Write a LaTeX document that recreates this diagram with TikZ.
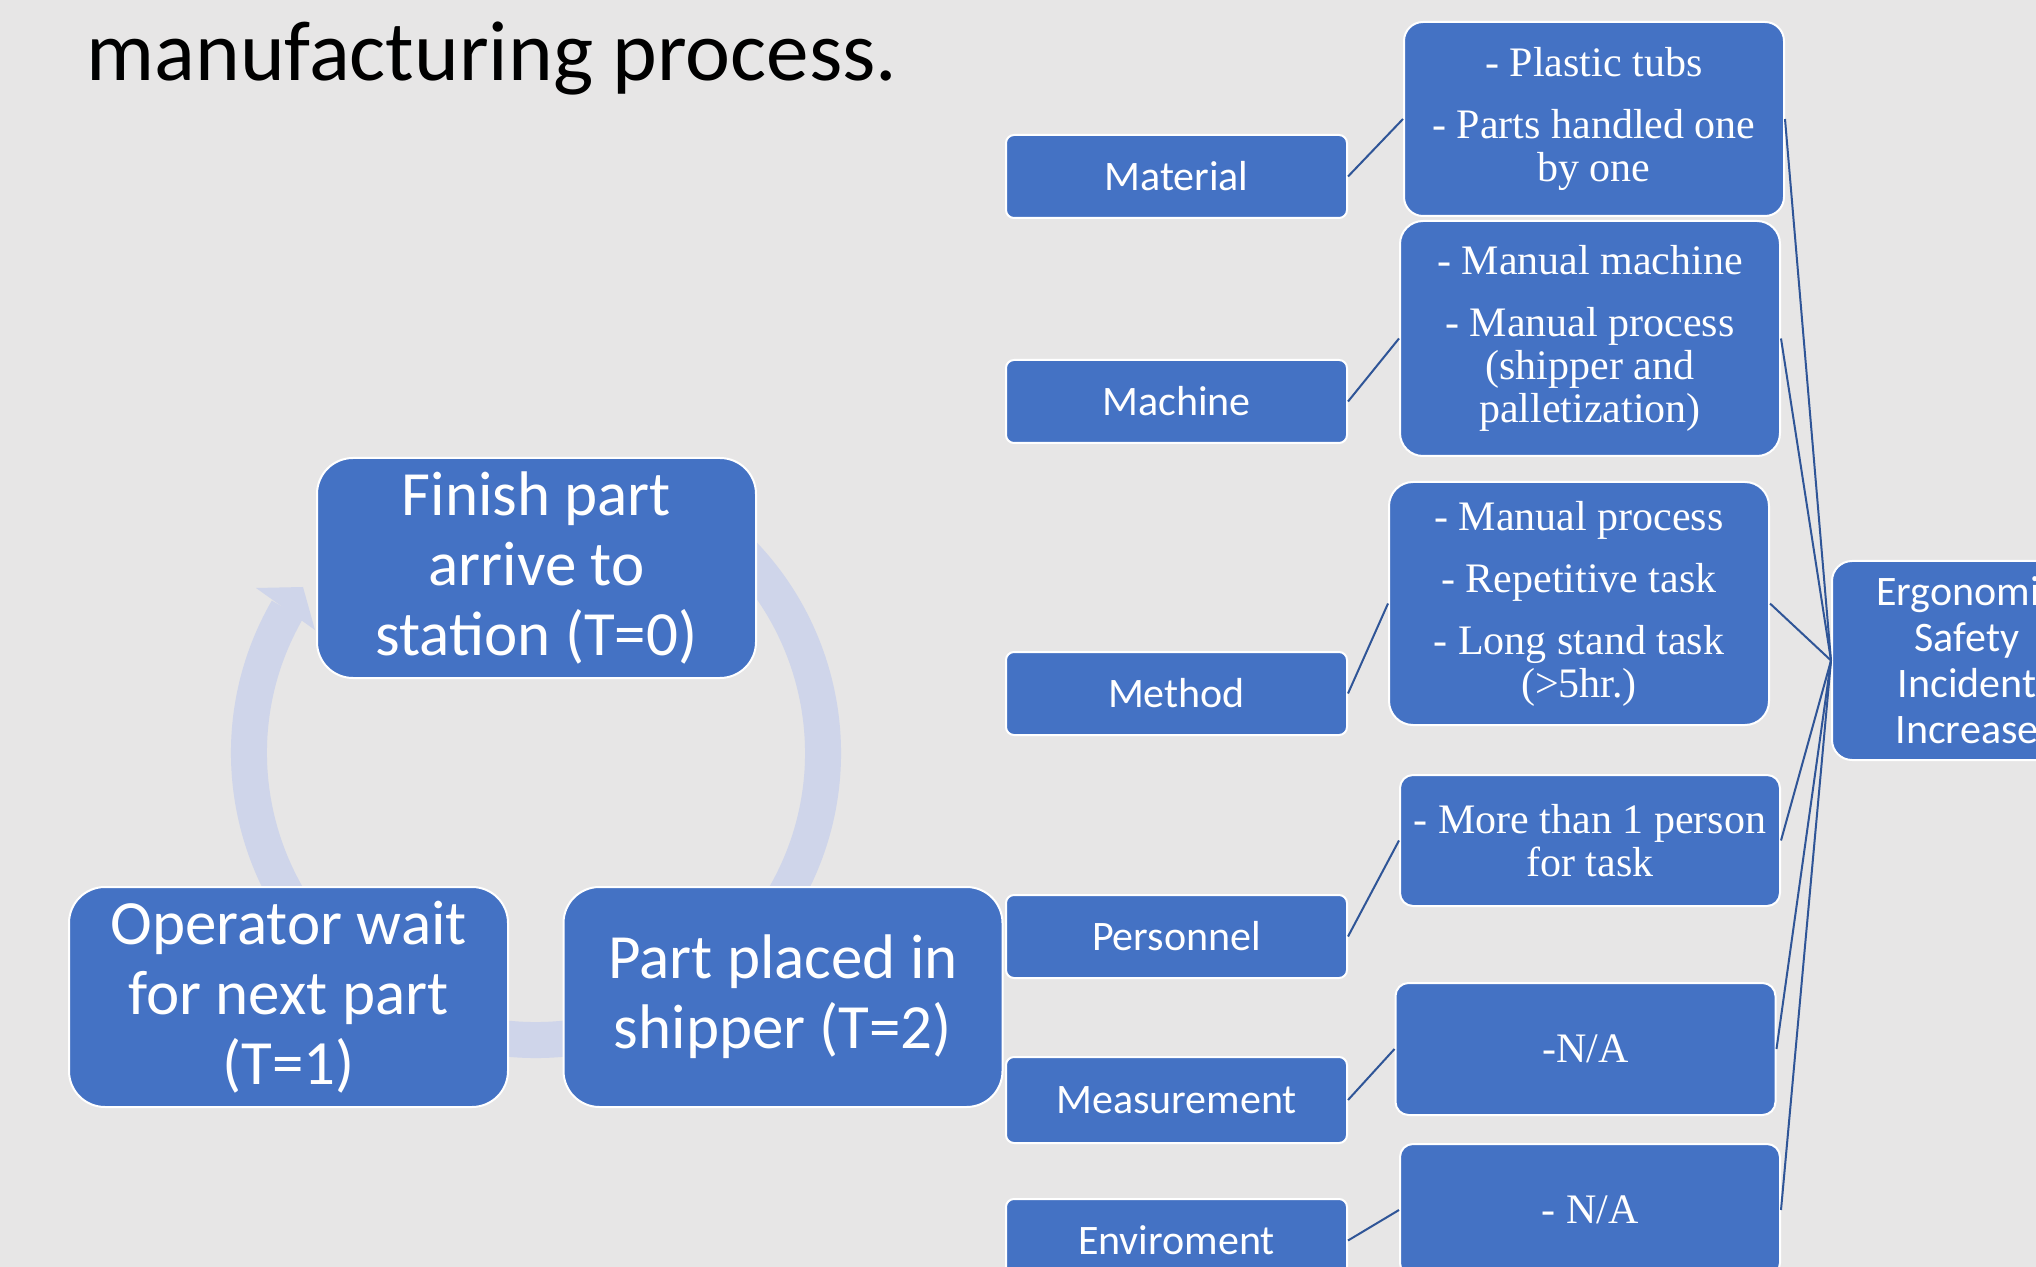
\documentclass[tikz,border=0pt]{standalone}
\usepackage{fontspec}
\setmainfont{Carlito}
\newfontfamily\tnr{Liberation Serif}
\usetikzlibrary{calc}
\definecolor{bg}{HTML}{E7E6E6}
\definecolor{boxblue}{HTML}{4472C4}
\definecolor{linkblue}{HTML}{2F5597}
\definecolor{cyclecol}{HTML}{CFD5EA}
\begin{document}
\begin{tikzpicture}[x=0.5pt,y=-0.5pt,
  box/.style={draw=white, line width=1pt, fill=boxblue, text=white, align=center, inner sep=0pt},
  catbox/.style={box, minimum width=170.5pt, minimum height=41.5pt, rounded corners=4pt, font=\fontsize{21}{23}\selectfont},
  detbox/.style={box, minimum width=190pt, font=\tnr\fontsize{21}{21.5}\selectfont},
  cycbox/.style={box, minimum width=219.5pt, minimum height=110pt, rounded corners=18pt, font=\fontsize{31.5}{35}\selectfont},
  ergobox/.style={box, minimum width=135pt, minimum height=99.5pt, rounded corners=10pt, font=\fontsize{21}{23}\selectfont},
  link/.style={draw=linkblue, line width=1pt},
  cycband/.style={draw=cyclecol, line width=18pt},
  cychead/.style={fill=cyclecol}
]
\fill[bg] (0,0) rectangle (2036,1267);
\useasboundingbox (0,0) rectangle (2036,1267);
\clip (0,0) rectangle (2036,1267);

% title
\node[anchor=base west, inner sep=0pt, font=\fontsize{42.6}{50}\selectfont] (title) at (86,81) {manufacturing process.};

% cycle band
\coordinate (cc) at (536,753);
\draw[cycband] ($(cc)+(60:143.5pt)$) arc[start angle=60, end angle=-210, radius=143.5pt];
\fill[cychead] (256,588) -- (303,587) -- (315,630) -- cycle;

% cycle boxes
\node[cycbox] (finish) at (536.5,568) {Finish part\\arrive to\\station (T=0)};
\node[cycbox] (oper) at (288.5,997) {Operator wait\\for next part\\(T=1)};
\node[cycbox] (placed) at (783,997) {Part placed in\\shipper (T=2)};

% category boxes
\node[catbox] (mat) at (1176.5,176.5) {Material};
\node[catbox] (mach) at (1176.5,401.5) {Machine};
\node[catbox] (meth) at (1176.5,693.5) {Method};
\node[catbox] (pers) at (1176.5,936.5) {Personnel};
\node[catbox, minimum height=43pt] (meas) at (1176.5,1100) {Measurement};
\node[catbox] (env) at (1176.5,1240.5) {Enviroment};

% detail boxes
\node[detbox, minimum height=97pt, rounded corners=9.5pt] (dmat) at (1594,119)
  {- Plastic tubs\\[9.5pt]- Parts handled one\\by one};
\node[detbox, minimum height=117.5pt, rounded corners=11.5pt] (dmach) at (1590,338.5)
  {- Manual machine\\[9.5pt]- Manual process\\(shipper and\\palletization)};
\node[detbox, minimum height=121.5pt, rounded corners=12pt] (dmeth) at (1579,603.5)
  {- Manual process\\[9.5pt]- Repetitive task\\[9.5pt]- Long stand task\\(>5hr.)};
\node[detbox, minimum height=65.5pt, rounded corners=6.5pt] (dpers) at (1590,840.5)
  {- More than 1 person\\for task};
\node[detbox, minimum height=66pt, rounded corners=6.5pt] (dmeas) at (1585.5,1049) {-N/A};
\node[detbox, minimum height=66pt, rounded corners=6.5pt] (denv) at (1590,1210) {- N/A};

% ergonomic box
\node[ergobox] (ergo) at (1967,660.5) {Ergonomic\\Safety\\Incident\\Increase};

% connectors
\draw[link] (mat.east) -- (dmat.west);
\draw[link] (mach.east) -- (dmach.west);
\draw[link] (meth.east) -- (dmeth.west);
\draw[link] (pers.east) -- (dpers.west);
\draw[link] (meas.east) -- (dmeas.west);
\draw[link] (env.east) -- (denv.west);
\draw[link] (dmat.east) -- (ergo.west);
\draw[link] (dmach.east) -- (ergo.west);
\draw[link] (dmeth.east) -- (ergo.west);
\draw[link] (dpers.east) -- (ergo.west);
\draw[link] (dmeas.east) -- (ergo.west);
\draw[link] (denv.east) -- (ergo.west);
\end{tikzpicture}
\end{document}
